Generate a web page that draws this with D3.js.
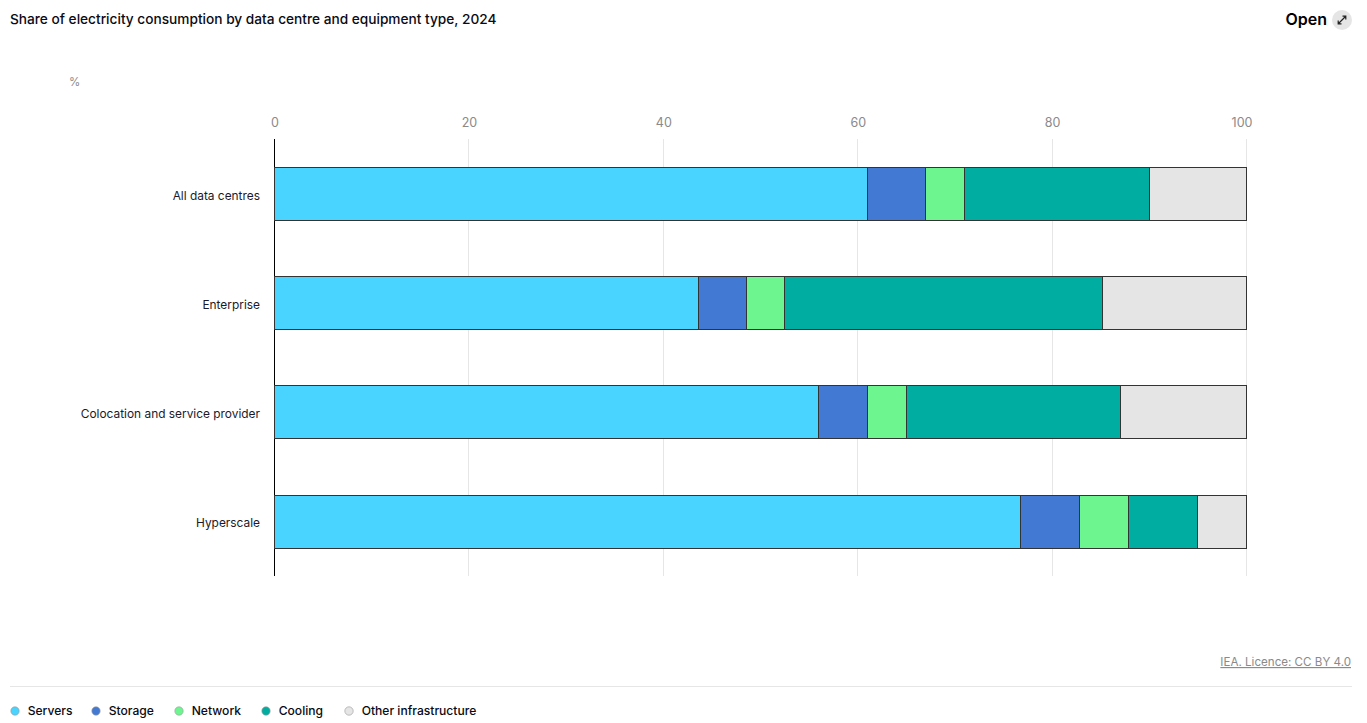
<!DOCTYPE html>
<html><head><meta charset="utf-8">
<script src="https://cdn.jsdelivr.net/npm/d3@7"></script>
<style>html,body{margin:0;padding:0;background:#fff;overflow:hidden}svg{display:block}text{font-family:Inter,"Noto Sans",sans-serif}</style>
</head><body><div id="chart"></div>
<script>
const title = "Share of electricity consumption by data centre and equipment type, 2024";
const unit = "%";
const licence = "IEA. Licence: CC BY 4.0";
const categories = ["All data centres","Enterprise","Colocation and service provider","Hyperscale"];
const seriesNames = ["Servers","Storage","Network","Cooling","Other infrastructure"];
const seriesColors = ["#49d3ff","#4279d3","#6df68f","#00ada1","#e5e5e5"];
const servers = [61,43.6,56,76.7];
const storage = [6,5,5,6.1];
const network = [4,3.9,4,5.1];
const cooling = [19,32.7,22,7.1];
const other = [10,14.8,13,5];
const ticks = [0,20,40,60,80,100];
const seriesValues = [servers,storage,network,cooling,other];

const W=1367,H=723;
const crisp=v=>Math.floor(v)+.5;
const svg=d3.select("#chart").append("svg").attr("width",W).attr("height",H);
const x=d3.scaleLinear().domain([0,100]).range([274.5,1246.5]);
const y=d3.scaleBand().domain(categories).range([139.17,576.17]).paddingInner(0.5149).paddingOuter(0.2574);

svg.append("text").attr("x",10).attr("y",24).attr("font-size",13.68).attr("font-weight",500).attr("fill","#0a0a14").text(title);
svg.append("text").attr("x",1327).attr("y",25).attr("text-anchor","end").attr("font-size",16).attr("font-weight",600).attr("fill","#000").text("Open");
svg.append("circle").attr("cx",1342).attr("cy",20).attr("r",10).attr("fill","#e5e5e5");
const ic=svg.append("g").attr("stroke","#222").attr("fill","none").attr("stroke-width",1.2);
ic.append("path").attr("d","M1338.5 23.5L1345.5 16.5M1342.5 16.2H1345.8V19.5M1338.2 20.5V23.8H1341.5");
svg.append("text").attr("x",69).attr("y",86).attr("font-size",11.5).attr("fill","#8a8a8a").text(unit);

const grid=svg.append("g");
grid.selectAll("line").data(ticks.slice(1)).join("line")
  .attr("x1",d=>crisp(x(d))).attr("x2",d=>crisp(x(d))).attr("y1",139).attr("y2",576)
  .attr("stroke","#e6e6e6").attr("stroke-width",1);

const xAxis=svg.append("g").attr("transform","translate(0,139)").call(d3.axisTop(x).tickValues(ticks).tickSize(0).tickPadding(12));
xAxis.select(".domain").remove();
xAxis.selectAll("text").attr("font-size",12.5).attr("fill","#8a8a8a").style("font-family","Inter,sans-serif");
xAxis.selectAll(".tick").filter(d=>d===100).select("text").attr("dx",-5);

const yAxis=svg.append("g").attr("transform","translate(274,0)").call(d3.axisLeft(y).tickSize(0).tickPadding(14));
yAxis.select(".domain").attr("d","M0.5,139V576").attr("stroke","#000").attr("stroke-width",1);
yAxis.selectAll("text").attr("font-size",11.9).attr("y",2).attr("fill","#1a1a2a").style("font-family","Inter,sans-serif");

const stacked=categories.map((c,i)=>{let s=0;return seriesValues.map((v,j)=>{const o={cat:c,j,x0:s,x1:s+v[i]};s+=v[i];return o;});}).flat();
svg.append("g").selectAll("rect").data(stacked).join("rect")
  .attr("x",d=>crisp(x(d.x0))).attr("width",d=>crisp(x(d.x1))-crisp(x(d.x0)))
  .attr("y",d=>crisp(y(d.cat))).attr("height",Math.round(y.bandwidth()))
  .attr("fill",d=>seriesColors[d.j]).attr("stroke","#333").attr("stroke-width",1);

svg.append("line").attr("x1",10).attr("x2",1352).attr("y1",686.5).attr("y2",686.5).attr("stroke","#e6e6e6");
svg.append("text").attr("x",1351).attr("y",666).attr("text-anchor","end").attr("font-size",11.6).attr("fill","#8a8a8a").attr("text-decoration","underline").text(licence);

const legendX=[15,96,179,266,349];
const lg=svg.append("g").selectAll("g").data(seriesNames).join("g").attr("transform",(d,i)=>`translate(${legendX[i]},711)`);
lg.append("circle").attr("r",4.2).attr("fill",(d,i)=>seriesColors[i]).attr("stroke","#999").attr("stroke-width",.6);
lg.append("text").attr("x",12.7).attr("y",4).attr("font-size",12.1).attr("font-weight",500).attr("fill","#0a0a14").text(d=>d);
</script></body></html>
